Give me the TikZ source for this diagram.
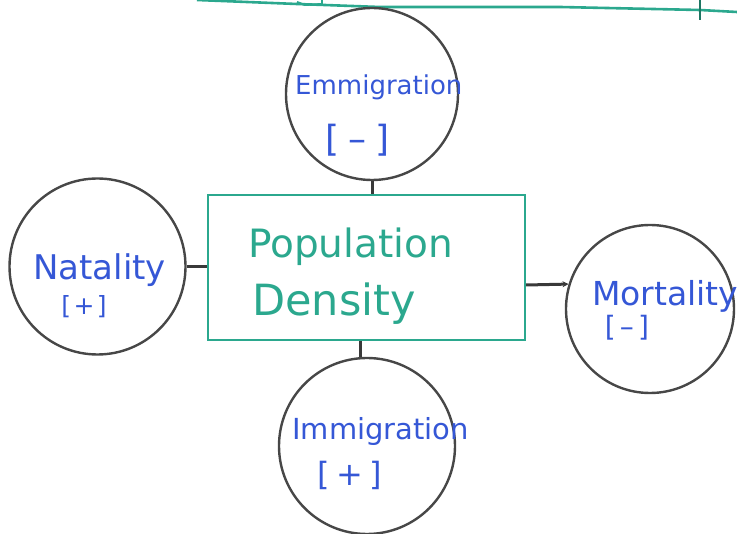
\documentclass[tikz,border=0pt]{standalone}
\usepackage{fontspec}
\setmainfont{DejaVu Sans}
\usetikzlibrary{arrows.meta,calc}
\definecolor{penteal}{HTML}{2BA88E}
\definecolor{penblue}{HTML}{3557D6}
\definecolor{pengray}{HTML}{474747}
\begin{document}
\begin{tikzpicture}[x=1pt,y=-1pt,
  factor/.style={circle,draw=pengray,line width=2.4pt,inner sep=0pt},
  centrebox/.style={rectangle,draw=penteal,line width=2.4pt,inner sep=0pt},
  link/.style={draw=pengray!80!black,line width=3pt},
  word/.style={anchor=base west,inner sep=0pt,text=penblue},
  sign/.style={anchor=center,inner sep=0pt,text=penblue},
  boxword/.style={anchor=base west,inner sep=0pt,text=penteal}]
\useasboundingbox (0,0) rectangle (737,534);

% ruled line along the top edge
\draw[penteal,line width=2.6pt,line join=round]
  (197,0) -- (297,4) -- (380,7) -- (560,7) -- (700,10) -- (737,12);
\draw[penteal,line width=2pt] (297,2) -- (305,5) -- (322,4);
\draw[penteal,line width=2pt] (322,0) -- (322,5);
\draw[penteal!70!black,line width=2pt] (700,0) -- (700,20);

% central box
\node[centrebox,minimum width=317pt,minimum height=145pt] (box) at (366.5,267.5) {};
\node[boxword,font=\fontsize{39}{39}\selectfont] (pop) at (248,258) {Population};
\node[boxword,font=\fontsize{43}{43}\selectfont] (dens) at (252,316) {Density};

% the four factors
\node[factor,minimum size=172pt] (emm) at (372,94) {};
\node[factor,minimum size=176pt] (nat) at (97.5,266.5) {};
\node[factor,minimum size=168pt] (mort) at (650,309) {};
\node[factor,minimum size=176pt] (imm) at (367,446) {};

\node[word,font=\fontsize{26}{26}\selectfont] (emmt) at (295,95) {Emmigration};
\node[sign,font=\fontsize{36}{36}\selectfont] (emms) at (358,140) {[\hspace{0.25em}–\hspace{0.25em}]};

\node[word,font=\fontsize{34}{34}\selectfont] (natt) at (33,280) {Natality};
\node[sign,font=\fontsize{25}{25}\selectfont] (nats) at (84,307) {[\hspace{0.1em}+\hspace{0.1em}]};

\node[word,font=\fontsize{33}{33}\selectfont] (mortt) at (592,306) {Mortality};
\node[sign,font=\fontsize{28}{28}\selectfont] (morts) at (627,328) {[\hspace{0.15em}–\hspace{0.15em}]};

\node[word,font=\fontsize{29}{29}\selectfont] (immt) at (292,440) {Immigration};
\node[sign,font=\fontsize{32}{32}\selectfont] (imms) at (350,475) {[\hspace{0.2em}+\hspace{0.2em}]};

% connectors
\draw[link] (emm.south) -- (emm.south |- box.north);
\draw[link] (nat.east) -- (nat.east -| box.west);
\coordinate (me) at ($(box.east)+(0,17.5)$);
\draw[link,-{Stealth[length=6pt,width=6pt]}] (me) -- (mort.163);
\coordinate (ms) at ($(box.south)+(-6.5,0)$);
\draw[link] (ms) -- (ms |- imm.north);
\end{tikzpicture}
\end{document}
